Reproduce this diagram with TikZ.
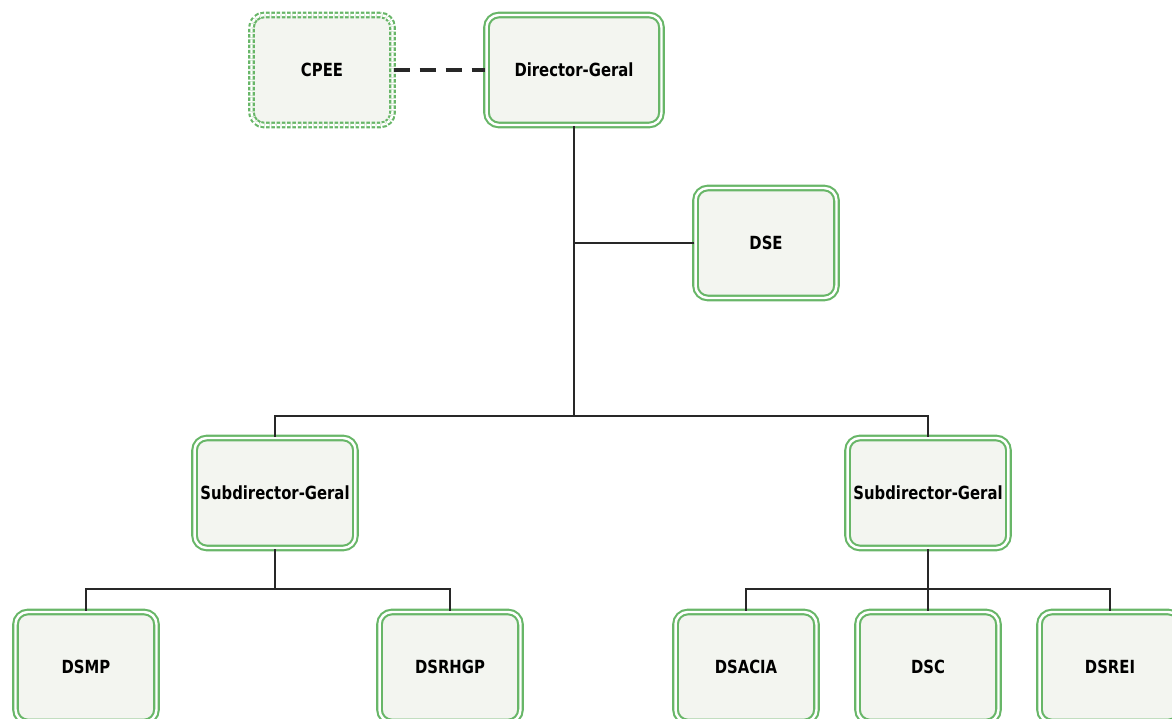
\documentclass[tikz,border=0pt]{standalone}
\usepackage{fontspec}
\setmainfont{DejaVu Sans}[FakeStretch=0.82]
\definecolor{boxgreen}{RGB}{104,182,104}
\definecolor{boxfill}{RGB}{243,245,240}
\definecolor{wire}{RGB}{40,40,40}
\tikzset{unit/.style={draw=boxgreen,double=white,double distance=1.4pt,line width=1.2pt,
    fill=boxfill,rounded corners=7pt,minimum width=2.82cm,minimum height=2.2cm,
    font=\bfseries\fontsize{10.3}{12}\selectfont},
  link/.style={wire,line width=1.1pt}}
\begin{document}
\begin{tikzpicture}[x=0.02cm,y=-0.02cm]
    \useasboundingbox (0,0) rectangle (1172,719);
    \node[unit,dash pattern=on 2pt off 1pt] (cpee) at (322,70) {CPEE};
    \node[unit,minimum width=3.5cm] (dg) at (574,70) {Director-Geral};
    \node[unit] (dse) at (766,243) {DSE};
    \node[unit,minimum width=3.1cm] (sub1) at (275,493) {Subdirector-Geral};
    \node[unit,minimum width=3.08cm] (sub2) at (928,493) {Subdirector-Geral};
    \node[unit] (dsmp) at (86,667) {DSMP};
    \node[unit] (dsrhgp) at (450,667) {DSRHGP};
    \node[unit] (dsacia) at (746,667) {DSACIA};
    \node[unit] (dsc) at (928,667) {DSC};
    \node[unit] (dsrei) at (1110,667) {DSREI};
    \coordinate (top) at (574,416);
    \coordinate (left) at (275,589);
    \coordinate (right) at (928,589);
    \draw[wire,line width=2pt,dash pattern=on 0.33cm off 0.19cm] (cpee) -- (dg);
    \draw[link] (dg.south) -- (top);
    \draw[link] (dse.west) -- (dse.west -| dg.south);
    \draw[link] (sub1.north) -- (sub1.north |- top) -- (sub2.north |- top) -- (sub2.north);
    \draw[link] (sub1.south) -- (left);
    \draw[link] (dsmp.north) -- (dsmp.north |- left) -- (dsrhgp.north |- left) -- (dsrhgp.north);
    \draw[link] (sub2.south) -- (dsc.north);
    \draw[link] (dsacia.north) -- (dsacia.north |- right) -- (dsrei.north |- right) -- (dsrei.north);
\end{tikzpicture}
\end{document}
